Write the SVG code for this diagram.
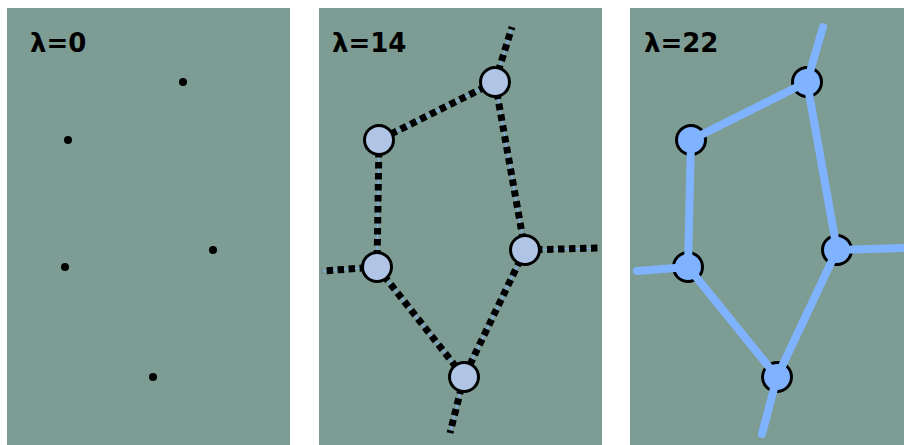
<svg xmlns="http://www.w3.org/2000/svg" width="904" height="445" viewBox="0 0 904 445">
  <style>
    .panel { fill: #7d9c93; }
    .label { font-family: "DejaVu Sans", Verdana, sans-serif; font-weight: bold; font-size: 26px; fill: #000; }
    .seed { fill: #000; }
    .node14 { fill: #b0c4e6; stroke: #000; stroke-width: 3; }
    .node22 { fill: #80b3ff; stroke: #000; stroke-width: 3; }
    .thin { stroke: #80b3ff; stroke-width: 1.2; fill: none; }
    .dash { stroke: #000; stroke-width: 7; stroke-dasharray: 6.5 4.5; fill: none; }
    .solid { stroke: #80b3ff; stroke-width: 8; stroke-linecap: round; fill: none; }
  </style>
  <rect width="904" height="445" fill="#fff"/>

  <!-- panel 1: seed points -->
  <g id="panel-0">
    <rect class="panel" x="7" y="8" width="283" height="437"/>
    <text class="label" x="30" y="52">λ=0</text>
    <g id="seeds">
      <circle class="seed" cx="183" cy="82" r="4"/>
      <circle class="seed" cx="68" cy="140" r="4"/>
      <circle class="seed" cx="213" cy="250" r="4"/>
      <circle class="seed" cx="65" cy="267" r="4"/>
      <circle class="seed" cx="153" cy="377" r="4"/>
    </g>
  </g>

  <!-- panel 2: tentative edges -->
  <g id="panel-14">
    <rect class="panel" x="319" y="8" width="283" height="437"/>
    <text class="label" x="332" y="52">λ=14</text>
    <g id="edges-14">
      <path class="thin" d="M495 82 L379 140 M495 82 L525 250 M379 140 L377 267 M377 267 L464 377 M525 250 L464 377 M495 82 L512 27 M377 267 L322 271 M525 250 L598 248 M464 377 L450 433"/>
      <path class="dash" d="M495 82 L379 140 M495 82 L525 250 M379 140 L377 267 M377 267 L464 377 M525 250 L464 377 M495 82 L512 27 M377 267 L322 271 M525 250 L598 248 M464 377 L450 433"/>
    </g>
    <g id="n14-a"><circle class="node14" cx="495" cy="82" r="14.5"/></g>
    <g id="n14-b"><circle class="node14" cx="379" cy="140" r="14.5"/></g>
    <g id="n14-c"><circle class="node14" cx="525" cy="250" r="14.5"/></g>
    <g id="n14-d"><circle class="node14" cx="377" cy="267" r="14.5"/></g>
    <g id="n14-e"><circle class="node14" cx="464" cy="377" r="14.5"/></g>
  </g>

  <!-- panel 3: settled edges drawn over the nodes -->
  <g id="panel-22">
    <rect class="panel" x="630" y="8" width="274" height="437"/>
    <text class="label" x="644" y="52">λ=22</text>
    <g id="n22-a"><circle class="node22" cx="807" cy="82" r="14.5"/></g>
    <g id="n22-b"><circle class="node22" cx="691" cy="140" r="14.5"/></g>
    <g id="n22-c"><circle class="node22" cx="837" cy="250" r="14.5"/></g>
    <g id="n22-d"><circle class="node22" cx="688" cy="267" r="14.5"/></g>
    <g id="n22-e"><circle class="node22" cx="777" cy="377" r="14.5"/></g>
    <g id="edges-22">
      <path class="solid" d="M807 82 L691 140 M807 82 L837 250 M691 140 L688 267 M688 267 L777 377 M837 250 L777 377 M807 82 L823 27 M688 267 L637 271 M837 250 L904 248 M777 377 L762 434"/>
    </g>
  </g>
</svg>
